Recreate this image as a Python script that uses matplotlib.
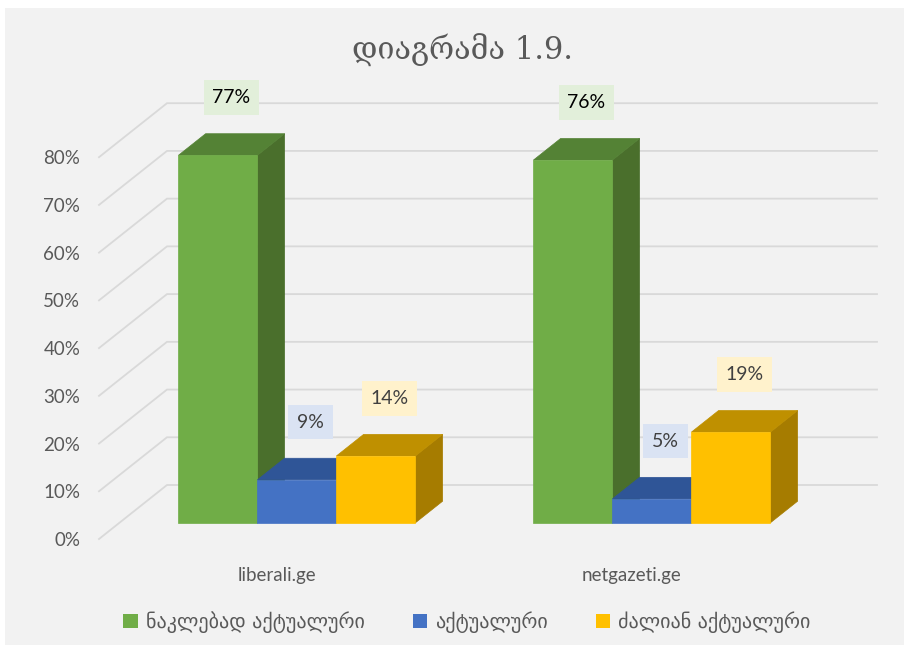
import matplotlib
matplotlib.use('Agg')
import matplotlib.pyplot as plt
from matplotlib.patches import Polygon, Rectangle

# data
categories = ['liberali.ge', 'netgazeti.ge']
series_names = ['ნაკლებად აქტუალური', 'აქტუალური', 'ძალიან აქტუალური']
less_actual = [77, 76]
actual = [9, 5]
very_actual = [14, 19]
y_ticks = [0, 10, 20, 30, 40, 50, 60, 70, 80]
title = 'დიაგრამა 1.9.'

series = [less_actual, actual, very_actual]
# front, top, side, label box, label text
colors = [
    ('#70ad47', '#548235', '#4a6f2c', '#e2efda', '#000000'),
    ('#4472c4', '#2f5597', '#2f5597', '#dae3f3', '#404040'),
    ('#ffc000', '#bf9000', '#a67c00', '#fff2cc', '#404040'),
]
grid_col = '#d9d9d9'
txt_col = '#595959'

W, H = 909, 648
fig = plt.figure(figsize=(W / 100, H / 100), dpi=100)
fig.patch.set_facecolor('white')
fig.patches.append(Rectangle((5 / W, 3 / H), 899 / W, 637 / H, transform=fig.transFigure,
                             facecolor='#f2f2f2', edgecolor='none', zorder=-10))

# front plane axes (depth 0)
px_per_pct = 381.8 / 80
ax = fig.add_axes([99 / W, 109 / H, 710 / W, 381.8 / H])
ax.set_xlim(-0.5, 1.5)
ax.set_ylim(0, 80)
ax.patch.set_visible(False)
for s in ax.spines.values():
    s.set_visible(False)

# pseudo 3d depth offset, in data units for a full depth step
DX = 68 / 355
DY = 54 / px_per_pct


def P(x, y, d):
    return (x + DX * d, y + DY * d)


# walls
for v in y_ticks:
    a, b, c = P(-0.5, v, 0), P(-0.5, v, 1), P(1.5, v, 1)
    ax.plot([a[0], b[0], c[0]], [a[1], b[1], c[1]], color=grid_col, lw=1.3,
            clip_on=False, zorder=1, solid_joinstyle='miter')

# bars
bw = 79 / 355
d0, d1 = 0.3, 0.7
for i, c in enumerate(range(len(categories))):
    for j, vals in enumerate(series):
        x0 = c + (j - 1.5) * bw
        h = vals[i]
        front, top, side, lbg, lcol = colors[j]
        faces = [
            ([P(x0 + bw, 0, d0), P(x0 + bw, 0, d1), P(x0 + bw, h, d1), P(x0 + bw, h, d0)], side),
            ([P(x0, h, d0), P(x0 + bw, h, d0), P(x0 + bw, h, d1), P(x0, h, d1)], top),
            ([P(x0, 0, d0), P(x0 + bw, 0, d0), P(x0 + bw, h, d0), P(x0, h, d0)], front),
        ]
        for pts, col in faces:
            ax.add_patch(Polygon(pts, closed=True, facecolor=col, edgecolor=col,
                                 lw=0.5, clip_on=False, zorder=3))
        ax.annotate(f'{h}%', xy=(x0 + bw / 2 + DX * 0.5, h + DY * d1),
                    xytext=(0, 26), textcoords='offset points', ha='center', va='center',
                    fontsize=14, family='Lato', color=lcol, zorder=5, annotation_clip=False,
                    bbox=dict(boxstyle='square,pad=0.45', facecolor=lbg, edgecolor='none'))

# axes ticks
ax.set_yticks(y_ticks)
ax.set_yticklabels([f'{v}%' for v in y_ticks])
ax.set_xticks(range(len(categories)))
ax.set_xticklabels(categories)
ax.tick_params(axis='y', length=0, pad=13.5, labelsize=13.5, labelcolor=txt_col)
ax.tick_params(axis='x', length=0, pad=20, labelsize=13.5, labelcolor=txt_col)
for t in ax.get_xticklabels() + ax.get_yticklabels():
    t.set_family('Lato')

# title
fig.text(463 / W, 1 - 50 / H, title, ha='center', va='center', fontsize=22,
         family=['DejaVu Serif', 'DejaVu Sans'], color=txt_col)

# legend
handles = [Rectangle((0, 0), 1, 1, facecolor=colors[j][0], edgecolor='none') for j in range(3)]
leg = fig.legend(handles, series_names, loc='center', bbox_to_anchor=(467 / W, 1 - 622 / H),
                 ncol=3, frameon=False, handlelength=0.7, handleheight=0.7,
                 columnspacing=2.4, handletextpad=0.4,
                 prop={'family': 'DejaVu Sans', 'size': 14.5})
for t in leg.get_texts():
    t.set_color(txt_col)

fig.savefig('out.png', dpi=100)
